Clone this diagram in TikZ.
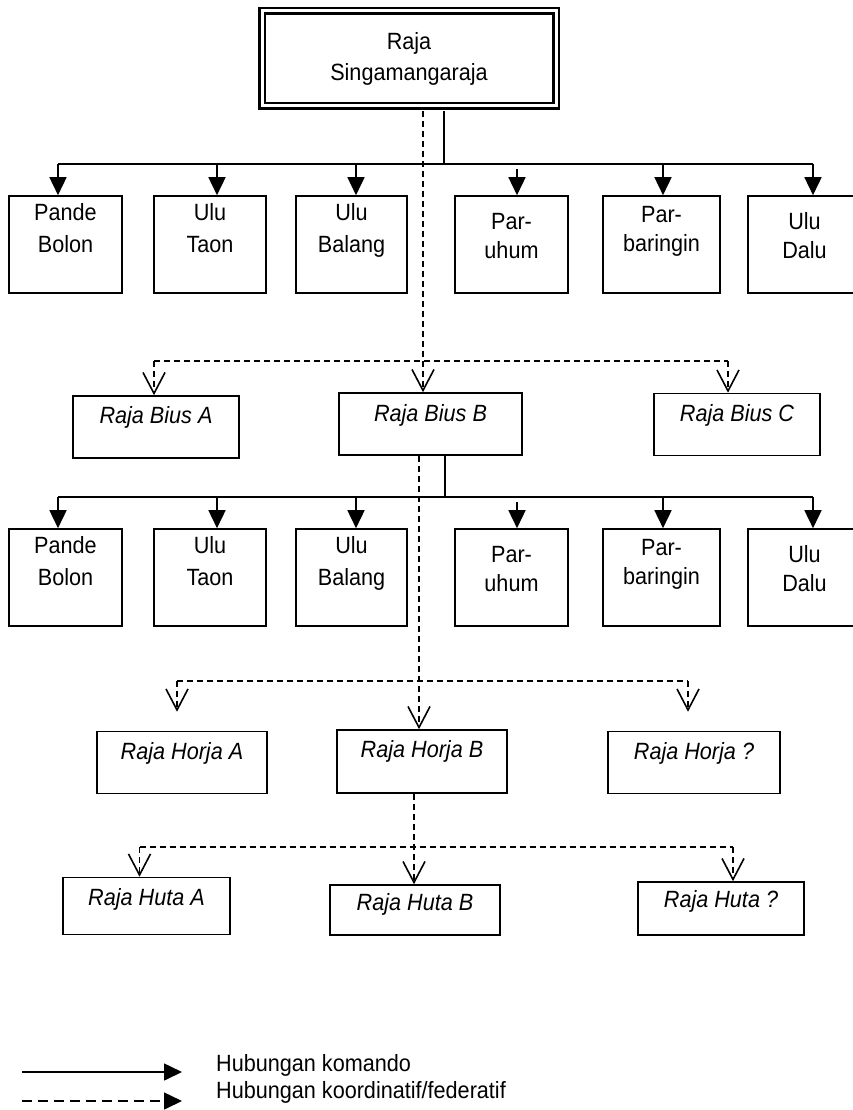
\documentclass[tikz,border=0pt]{standalone}
\usepackage{fontspec}
\setmainfont{Liberation Sans}[FakeStretch=0.92]
\usetikzlibrary{arrows.meta, positioning}

\begin{document}
\begin{tikzpicture}[x=1pt, y=-1pt,
    font=\fontsize{23.5pt}{32pt}\selectfont,
    unit/.style={draw, line width=1.6pt, minimum width=#1, minimum height=97pt, inner sep=0pt},
    rajabox/.style={draw, line width=1.6pt, minimum width=#1, minimum height=62pt, inner sep=0pt},
    lbl/.style={anchor=north, yshift=-8.5pt, inner sep=0pt, align=center},
    ilbl/.style={lbl, yshift=-3pt, font=\fontsize{23.5pt}{32pt}\selectfont\itshape},
    garis/.style={line width=1.6pt},
    garisputus/.style={line width=1.6pt, dash pattern=on 6pt off 4pt},
    komando/.style={garis, -{Triangle[length=18pt, width=17pt]}},
    koord/.style={garisputus, -{Straight Barb[length=21pt, width=22pt]}}]
  \useasboundingbox (0,0) rectangle (852,1110);

  % Raja Singamangaraja
  \node[draw, double, line width=2.5pt, double distance=3pt, minimum width=294pt,
        minimum height=95pt, align=center] (singa) at (409,58.5) {Raja\\[-1pt]Singamangaraja};

  % Pembantu raja (dua baris)
  \foreach \r/\y in {1/244.5, 2/577.5}{
    \node[unit=113pt, label={[lbl]north:Pande\\Bolon}] (pb\r) at (65.5,\y) {};
    \node[unit=112pt, label={[lbl]north:Ulu\\Taon}] (ut\r) at (210,\y) {};
    \node[unit=111pt, label={[lbl]north:Ulu\\Balang}] (ub\r) at (351.5,\y) {};
    \node[unit=113pt, label={[lbl, yshift=-9pt]north:Par-\\[-3pt]uhum}] (pu\r) at (511.5,\y) {};
    \node[unit=117pt, label={[lbl, yshift=-2pt]north:Par-\\[-3pt]baringin}] (pr\r) at (661.5,\y) {};
    \node[unit=113pt, label={[lbl, yshift=-9pt]north:Ulu\\[-3pt]Dalu}] (ud\r) at (804.5,\y) {};
  }

  % Raja Bius
  \node[rajabox=166pt, label={[ilbl]north:Raja Bius A}] (ba) at (156,427) {};
  \node[rajabox=183pt, label={[ilbl, yshift=-1pt]north:Raja Bius B}] (bb) at (430.5,424) {};
  \node[rajabox=166pt, label={[ilbl]north:Raja Bius C}] (bc) at (737,424.5) {};

  % Raja Horja
  \node[rajabox=170pt, label={[ilbl]north:Raja Horja A}] (ha) at (182,762.5) {};
  \node[rajabox=170pt, minimum height=63pt, label={[ilbl]north:Raja Horja B}] (hb) at (422,761.5) {};
  \node[rajabox=172pt, label={[ilbl]north:Raja Horja ?}] (hc) at (694,762.5) {};

  % Raja Huta
  \node[rajabox=167pt, minimum height=57pt, label={[ilbl]north:Raja Huta A}] (ta) at (146.5,906) {};
  \node[rajabox=170pt, minimum height=50pt, label={[ilbl, yshift=2pt]north:Raja Huta B}] (tb) at (415,910) {};
  \node[rajabox=166pt, minimum height=53pt, label={[ilbl, yshift=2pt]north:Raja Huta ?}] (tc) at (721,908.5) {};

  % Hubungan komando
  \coordinate (h1) at (444,164);
  \coordinate (h3) at (445,497);
  \draw[garis] ([yshift=-4pt]singa.south -| h1) -- (h1);
  \draw[garis] (bb.south -| h3) -- (h3);
  \foreach \r/\h in {1/h1, 2/h3}{
    \draw[garis] ([xshift=-7.5pt]pb\r.north |- \h) -- ([xshift=8.5pt]ud\r.north |- \h);
    \draw[komando] ([xshift=-7.5pt]pb\r.north |- \h) -- ([xshift=-7.5pt]pb\r.north);
    \draw[komando] ([xshift=7pt]ut\r.north |- \h) -- ([xshift=7pt]ut\r.north);
    \draw[komando] ([xshift=4.5pt]ub\r.north |- \h) -- ([xshift=4.5pt]ub\r.north);
    \draw[komando] ([xshift=5.5pt, yshift=-5pt]pu\r.north |- \h) -- ([xshift=5.5pt]pu\r.north);
    \draw[komando] ([xshift=1.5pt]pr\r.north |- \h) -- ([xshift=1.5pt]pr\r.north);
    \draw[komando] ([xshift=8.5pt]ud\r.north |- \h) -- ([xshift=8.5pt]ud\r.north);
  }

  % Hubungan koordinatif ke Raja Bius
  \coordinate (h2) at (423,361);
  \draw[koord] ([yshift=-4pt]singa.south -| h2) -- ([xshift=-7.5pt]bb.north);
  \draw[garisputus] ([xshift=-2pt]ba.north |- h2) -- ([xshift=-9pt]bc.north |- h2);
  \draw[koord] ([xshift=-2pt]ba.north |- h2) -- ([xshift=-2pt]ba.north);
  \draw[koord] ([xshift=-9pt]bc.north |- h2) -- ([xshift=-9pt]bc.north);

  % ke Raja Horja
  \coordinate (h4) at (419,681);
  \draw[koord] (bb.south -| h4) -- ([xshift=-3pt]hb.north);
  \draw[garisputus] ([xshift=-5pt]ha.north |- h4) -- ([xshift=-6pt]hc.north |- h4);
  \draw[koord] ([xshift=-5pt]ha.north |- h4) -- ([xshift=-5pt, yshift=19pt]ha.north);
  \draw[koord] ([xshift=-6pt]hc.north |- h4) -- ([xshift=-6pt, yshift=19pt]hc.north);

  % ke Raja Huta
  \coordinate (h5) at (414,847);
  \draw[koord] (hb.south -| h5) -- ([xshift=-1pt]tb.north);
  \draw[garisputus] ([xshift=-7pt]ta.north |- h5) -- ([xshift=12pt]tc.north |- h5);
  \draw[koord] ([xshift=-7pt]ta.north |- h5) -- ([xshift=-7pt]ta.north);
  \draw[koord] ([xshift=12pt]tc.north |- h5) -- ([xshift=12pt]tc.north);

  % Keterangan
  \coordinate (k1) at (22,1072);
  \coordinate (k2) at (182,1072);
  \coordinate (f1) at (22,1101);
  \coordinate (f2) at (182,1101);
  \draw[komando] (k1) -- (k2);
  \draw[garis, dash pattern=on 10pt off 6pt, -{Triangle[length=18pt, width=17pt]}] (f1) -- (f2);
  \node[anchor=west, inner sep=0pt] (lk) at (216,1065) {Hubungan komando};
  \node[anchor=west, inner sep=0pt] (lf) at (216,1092) {Hubungan koordinatif/federatif};
\end{tikzpicture}
\end{document}
